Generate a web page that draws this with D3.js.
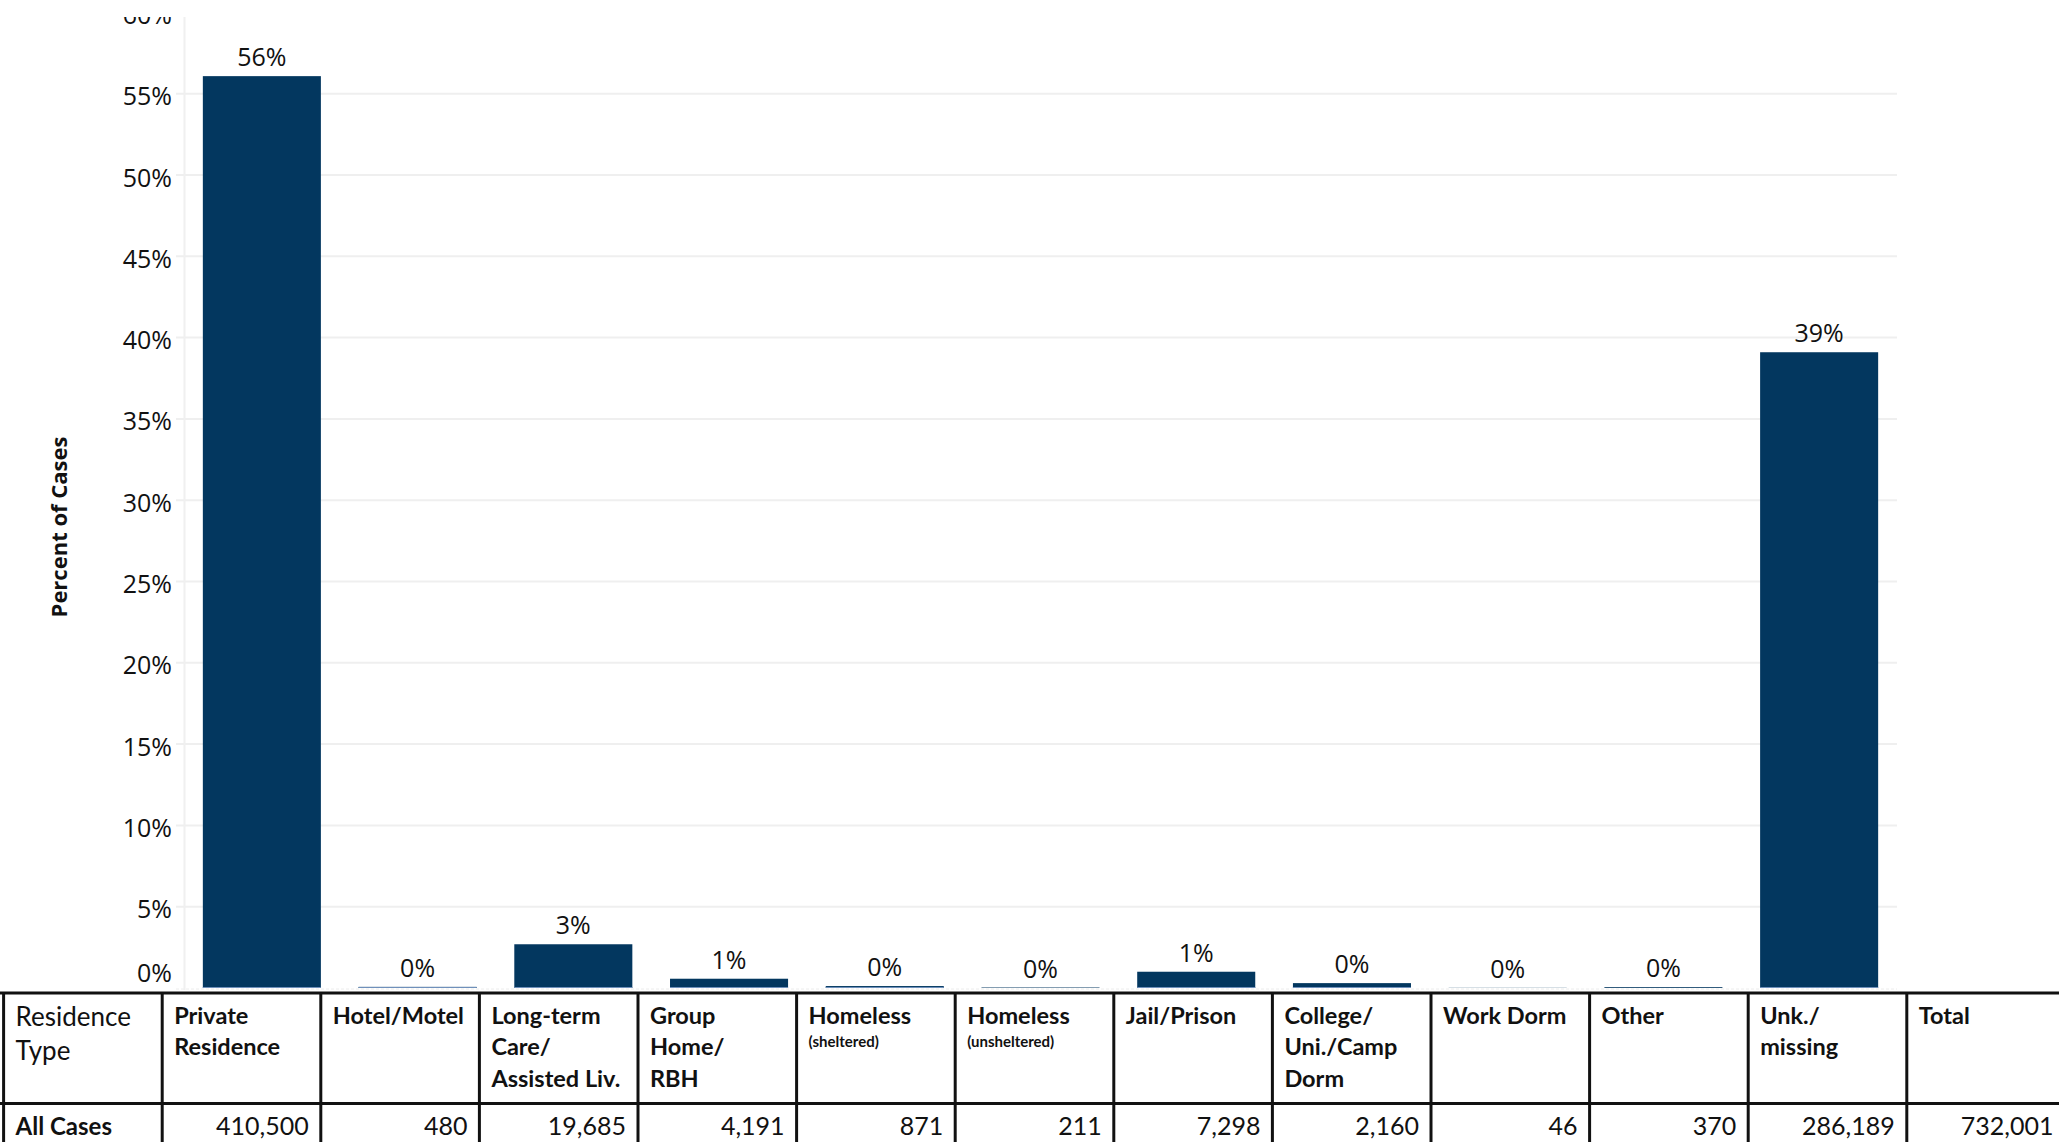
<!DOCTYPE html>
<html>
<head>
<meta charset="utf-8">
<script src="https://cdn.jsdelivr.net/npm/d3@7"></script>
<style>
  html, body { margin: 0; padding: 0; background: #fff; }
  svg { display: block; }
</style>
</head>
<body>
<svg id="chart" width="2059" height="1142"></svg>
<script>
// ---- data ----
const categories = ["Private Residence", "Hotel/Motel", "Long-term Care/Assisted Liv.", "Group Home/RBH",
  "Homeless (sheltered)", "Homeless (unsheltered)", "Jail/Prison", "College/Uni./Camp Dorm",
  "Work Dorm", "Other", "Unk./missing"];
const percentValues = [56.08, 0.07, 2.69, 0.57, 0.12, 0.03, 1.00, 0.30, 0.01, 0.05, 39.10];
const yTicks = [0, 5, 10, 15, 20, 25, 30, 35, 40, 45, 50, 55, 60];
const headerLines = [["Private", "Residence"], ["Hotel/Motel"], ["Long-term", "Care/", "Assisted Liv."],
  ["Group", "Home/", "RBH"], ["Homeless"], ["Homeless"], ["Jail/Prison"], ["College/", "Uni./Camp", "Dorm"],
  ["Work Dorm"], ["Other"], ["Unk./", "missing"], ["Total"]];
const headerSub = ["", "", "", "", "(sheltered)", "(unsheltered)", "", "", "", "", "", ""];
const caseCounts = [410500, 480, 19685, 4191, 871, 211, 7298, 2160, 46, 370, 286189, 732001];
const rowHeaderLines = ["Residence", "Type"];
const rowLabel = "All Cases";
const yTitle = "Percent of Cases";

// ---- chart ----
const svg = d3.select("#chart");
const barColor = "#03375f";
const tickFont = "'Open Sans', 'Noto Sans', sans-serif";
const tableFont = "Lato, 'Open Sans', sans-serif";

const x = d3.scaleBand().domain(categories).range([184, 1897]).paddingInner(0.242).paddingOuter(0.121);
const y = d3.scaleLinear().domain([0, 60]).range([988, 12.4]);

svg.append("clipPath").attr("id", "clipTop")
  .append("rect").attr("x", 0).attr("y", 17).attr("width", 2059).attr("height", 1142);

const plot = svg.append("g").attr("clip-path", "url(#clipTop)");

// gridlines
plot.append("g").selectAll("line").data(yTicks.filter(t => t > 0)).join("line")
  .attr("x1", 176).attr("x2", 1897)
  .attr("y1", d => y(d)).attr("y2", d => y(d))
  .attr("stroke", "#efefef").attr("stroke-width", 2);
// zero line
plot.append("line").attr("x1", 176).attr("x2", 1897).attr("y1", y(0) + 1).attr("y2", y(0) + 1)
  .attr("stroke", "#ececec").attr("stroke-width", 1).attr("stroke-dasharray", "3,2");
// axis line
plot.append("line").attr("x1", 184.5).attr("x2", 184.5).attr("y1", 0).attr("y2", 990)
  .attr("stroke", "#f0f0f0").attr("stroke-width", 2);

// tick labels
plot.append("g").selectAll("text").data(yTicks).join("text")
  .attr("x", 172)
  .attr("y", d => d === 0 ? y(d) - 6 : y(d) + 11.5)
  .attr("text-anchor", "end")
  .attr("font-family", tickFont).attr("font-size", 25).attr("fill", "#111")
  .text(d => d + "%");

// bars
plot.append("g").selectAll("rect").data(categories).join("rect")
  .attr("x", d => x(d))
  .attr("width", x.bandwidth())
  .attr("y", (d, i) => y(percentValues[i]))
  .attr("height", (d, i) => y(0) - y(percentValues[i]))
  .attr("fill", barColor);
// light bottom edge of visible bars
plot.append("g").selectAll("line").data(categories.filter((d, i) => percentValues[i] >= 0.06)).join("line")
  .attr("x1", d => x(d)).attr("x2", d => x(d) + x.bandwidth())
  .attr("y1", y(0) - 0.5).attr("y2", y(0) - 0.5)
  .attr("stroke", "#6f90bb").attr("stroke-width", 1);

// bar labels
const fmt = v => Math.round(v) + "%";
plot.append("g").selectAll("text").data(categories).join("text")
  .attr("x", d => x(d) + x.bandwidth() / 2)
  .attr("y", (d, i) => y(percentValues[i]) - 10)
  .attr("text-anchor", "middle")
  .attr("font-family", tickFont).attr("font-size", 25).attr("fill", "#111")
  .text((d, i) => fmt(percentValues[i]));

// y title
svg.append("text")
  .attr("transform", "translate(61,527) rotate(-90)")
  .attr("text-anchor", "middle").attr("dominant-baseline", "middle")
  .attr("font-family", tickFont).attr("font-weight", 700).attr("font-size", 22).attr("fill", "#111")
  .text(yTitle);

// ---- table ----
const colX = d3.scaleLinear().domain([0, 13]).range([3.6, 3.6 + 13 * 158.6]);
const tTop = 993, tMid = 1103.5, tBot = 1150;
const tg = svg.append("g");
const lineAttrs = sel => sel.attr("stroke", "#111").attr("stroke-width", 3);
tg.append("line").attr("x1", 0).attr("x2", 2059).attr("y1", tTop).attr("y2", tTop).call(lineAttrs);
tg.append("line").attr("x1", 0).attr("x2", 2059).attr("y1", tMid).attr("y2", tMid).call(lineAttrs);
tg.selectAll("line.v").data(d3.range(14)).join("line").attr("class", "v")
  .attr("x1", d => colX(d)).attr("x2", d => colX(d))
  .attr("y1", tTop).attr("y2", tBot).call(lineAttrs);

// row header
tg.append("g").selectAll("text").data(rowHeaderLines).join("text")
  .attr("x", colX(0) + 12).attr("y", (d, i) => 1026 + i * 34)
  .attr("font-family", tableFont).attr("font-size", 26).attr("fill", "#111")
  .text(d => d);
tg.append("text").attr("x", colX(0) + 12).attr("y", 1135)
  .attr("font-family", tableFont).attr("font-weight", 700).attr("font-size", 24).attr("fill", "#111")
  .text(rowLabel);

// column headers
headerLines.forEach((lines, i) => {
  const gx = colX(i + 1) + 12;
  tg.append("g").selectAll("text").data(lines).join("text")
    .attr("x", gx).attr("y", (d, j) => 1024 + j * 31.3)
    .attr("font-family", tableFont).attr("font-weight", 700).attr("font-size", 23.5).attr("fill", "#111")
    .text(d => d);
  if (headerSub[i]) {
    tg.append("text").attr("x", gx).attr("y", 1047)
      .attr("font-family", tableFont).attr("font-weight", 700).attr("font-size", 15).attr("fill", "#111")
      .text(headerSub[i]);
  }
});

// counts
tg.append("g").selectAll("text").data(caseCounts).join("text")
  .attr("x", (d, i) => colX(i + 2) - 12).attr("y", 1135)
  .attr("text-anchor", "end")
  .attr("font-family", tableFont).attr("font-size", 25).attr("fill", "#111")
  .text(d => d3.format(",")(d));
</script>
</body>
</html>
